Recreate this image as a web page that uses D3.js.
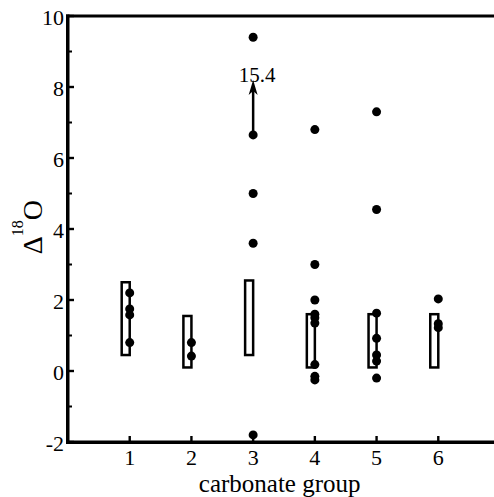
<!DOCTYPE html>
<html>
<head>
<meta charset="utf-8">
<script src="https://cdn.jsdelivr.net/npm/d3@7"></script>
<style>
  body { margin: 0; background: #fff; }
  text { font-family: "Liberation Serif", "Times New Roman", serif; fill: #000; }
</style>
</head>
<body>
<div id="chart"></div>
<script>
// carbonate groups and the range boxes drawn for each
const groups = [1, 2, 3, 4, 5, 6];
const boxLow = [0.45, 0.1, 0.45, 0.1, 0.1, 0.1];
const boxHigh = [2.5, 1.55, 2.55, 1.6, 1.6, 1.6];

// measured values per group
const group1 = [2.2, 1.75, 1.58, 0.8];
const group2 = [0.8, 0.42];
const group3 = [9.4, 6.65, 5.0, 3.6, -1.8];
const group4 = [6.8, 3.0, 2.0, 1.6, 1.5, 1.35, 0.18, -0.15, -0.25];
const group5 = [7.3, 4.55, 1.63, 0.92, 0.45, 0.28, -0.2];
const group6 = [2.03, 1.33, 1.22];
const values = [group1, group2, group3, group4, group5, group6];

// off-scale point in group 3
const outlierGroup = 3;
const outlierFrom = 6.65;
const outlierArrowTo = 8.2;
const outlierLabel = "15.4";

const yTicks = [-2, 0, 2, 4, 6, 8, 10];
const yMinor = [-1, 1, 3, 5, 7, 9];

const width = 494, height = 497;
const margin = { top: 16, right: -6, bottom: 55, left: 68 };

const svg = d3.select("#chart").append("svg")
  .attr("width", width)
  .attr("height", height);

const x = d3.scaleLinear()
  .domain([0, 7])
  .range([margin.left, width - margin.right]);

const y = d3.scaleLinear()
  .domain([-2, 10])
  .range([height - margin.bottom, margin.top]);

const x0 = x(0), yb = y(-2), yt = y(10);

// frame as filled bars: top border, left axis, bottom axis
const frame = svg.append("g").attr("fill", "#000");
frame.append("rect").attr("x", x0 - 2).attr("y", yt - 1.5).attr("width", width - x0 + 2).attr("height", 3);
frame.append("rect").attr("x", x0 - 2).attr("y", yt - 1.5).attr("width", 3.5).attr("height", yb - yt + 3);
frame.append("rect").attr("x", x0 - 2).attr("y", yb - 1.5).attr("width", width - x0 + 2).attr("height", 3.5);

// y ticks (inward)
frame.selectAll(".ytick")
  .data(yTicks)
  .enter().append("rect")
  .attr("x", x0).attr("width", 6)
  .attr("y", d => y(d) - 1.2).attr("height", 2.4);
frame.selectAll(".yminor")
  .data(yMinor)
  .enter().append("rect")
  .attr("x", x0).attr("width", 4)
  .attr("y", d => y(d) - 1).attr("height", 2);

// x ticks (inward)
frame.selectAll(".xtick")
  .data(groups)
  .enter().append("rect")
  .attr("x", d => x(d) - 1.2).attr("width", 2.4)
  .attr("y", yb - 6).attr("height", 6);

svg.selectAll(".ylab")
  .data(yTicks)
  .enter().append("text")
  .attr("class", "ylab")
  .attr("x", x0 - 4)
  .attr("y", d => y(d) + 9)
  .attr("text-anchor", "end")
  .attr("font-size", 22)
  .text(d => d);

svg.selectAll(".xlab")
  .data(groups)
  .enter().append("text")
  .attr("class", "xlab")
  .attr("x", d => x(d))
  .attr("y", yb + 22.5)
  .attr("text-anchor", "middle")
  .attr("font-size", 22)
  .text(d => d);

svg.append("text")
  .attr("x", x(3.43))
  .attr("y", 491.5)
  .attr("text-anchor", "middle")
  .attr("font-size", 25)
  .text("carbonate group");

// y axis title: Δ18O
svg.append("text")
  .attr("transform", `translate(42,${y(4.05)}) rotate(-90)`)
  .attr("text-anchor", "middle")
  .attr("font-size", 28)
  .html('Δ<tspan font-size="16" dy="-19">18</tspan><tspan dy="19">O</tspan>');

// range boxes
const bw = 0.13;
svg.selectAll(".box")
  .data(groups)
  .enter().append("rect")
  .attr("class", "box")
  .attr("x", d => x(d - bw))
  .attr("width", x(bw) - x(0))
  .attr("y", (d, i) => y(boxHigh[i]))
  .attr("height", (d, i) => y(boxLow[i]) - y(boxHigh[i]))
  .attr("fill", "none")
  .attr("stroke", "#000")
  .attr("stroke-width", 2.5);

// points
const pts = values.flatMap((vals, i) => vals.map(v => ({ g: groups[i], v })));
svg.selectAll(".pt")
  .data(pts)
  .enter().append("circle")
  .attr("class", "pt")
  .attr("cx", d => x(d.g))
  .attr("cy", d => y(d.v))
  .attr("r", 4.5)
  .attr("fill", "#000");

// arrow toward off-scale value
const ax = x(outlierGroup), ay = y(outlierArrowTo);
svg.append("line")
  .attr("x1", ax).attr("x2", ax)
  .attr("y1", y(outlierFrom)).attr("y2", ay + 8)
  .attr("stroke", "#000").attr("stroke-width", 2.5);
svg.append("path")
  .attr("d", `M${ax},${ay}L${ax - 4.5},${ay + 15}L${ax},${ay + 11}L${ax + 4.5},${ay + 15}Z`)
  .attr("fill", "#000");
svg.append("text")
  .attr("x", ax + 4)
  .attr("y", ay + 2)
  .attr("text-anchor", "middle")
  .attr("font-size", 21)
  .text(outlierLabel);
</script>
</body>
</html>
